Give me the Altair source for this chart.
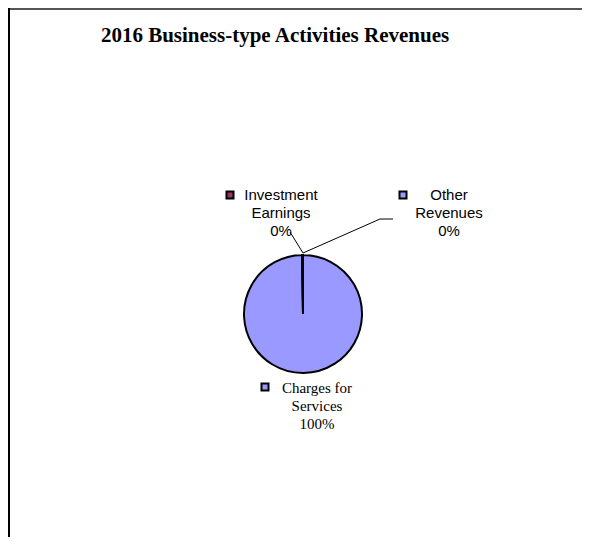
import altair as alt
import pandas as pd

# ---- data ----
categories = ["Charges for Services", "Investment Earnings", "Other Revenues"]
values = [14520000, 21000, 17000]
colors = ["#9999FF", "#993366", "#9999FF"]

# ---- layout (not data) ----
W, H = 574, 529
CX, CY, R = 295, 306, 59
label_lines = {
    "Charges for Services": ["Charges for", "Services"],
    "Investment Earnings": ["Investment", "Earnings"],
    "Other Revenues": ["Other", "Revenues"],
}
label_pos = {  # text block center x, top y, marker x, marker y
    "Charges for Services": (309, 373, 257, 379),
    "Investment Earnings": (273, 180, 222, 187),
    "Other Revenues": (441, 180, 395, 187),
}
label_font = {
    "Charges for Services": "Liberation Serif",
    "Investment Earnings": "Liberation Sans",
    "Other Revenues": "Liberation Sans",
}
leaders = [
    ("Investment Earnings", [(295, 245), (282, 224)]),
    ("Other Revenues", [(295, 245), (372, 211), (385, 211)]),
]

total = sum(values)
df = pd.DataFrame({"category": categories, "value": values, "idx": range(len(categories))})

rows = []
for c, v in zip(categories, values):
    tx, ty, mx, my = label_pos[c]
    pct = f"{round(v / total * 100):.0f}%"
    rows.append({"category": c, "tx": tx, "ty": ty, "mx": mx, "my": my,
                 "text": "\n".join(label_lines[c] + [pct]), "font": label_font[c]})
lab = pd.DataFrame(rows)

lrows = []
for c, pts in leaders:
    for i, (x, y) in enumerate(pts):
        lrows.append({"category": c, "x": x, "y": y, "o": i})
ldf = pd.DataFrame(lrows)

color_scale = alt.Scale(domain=categories, range=colors)

pie = alt.Chart(df).mark_arc(radius=R, stroke="black", strokeWidth=2, x=CX, y=CY).encode(
    theta=alt.Theta("value:Q", stack=True),
    color=alt.Color("category:N", scale=color_scale, legend=None),
    order=alt.Order("idx:Q"),
)

lines = alt.Chart(ldf).mark_line(color="black", strokeWidth=1).encode(
    x=alt.X("x:Q", scale=None, axis=None),
    y=alt.Y("y:Q", scale=None, axis=None),
    detail="category:N",
    order="o:Q",
)

markers = alt.Chart(lab).mark_square(size=49, stroke="black", strokeWidth=2, opacity=1).encode(
    x=alt.X("mx:Q", scale=None, axis=None),
    y=alt.Y("my:Q", scale=None, axis=None),
    color=alt.Color("category:N", scale=color_scale, legend=None),
)

texts_sans = alt.Chart(lab).transform_filter(alt.datum.font == "Liberation Sans").mark_text(
    font="Liberation Sans", fontSize=15, lineHeight=18, align="center", baseline="top",
    lineBreak="\n", color="black"
).encode(
    x=alt.X("tx:Q", scale=None, axis=None),
    y=alt.Y("ty:Q", scale=None, axis=None),
    text="text:N",
)
texts_serif = alt.Chart(lab).transform_filter(alt.datum.font == "Liberation Serif").mark_text(
    font="Liberation Serif", fontSize=15, lineHeight=18, align="center", baseline="top",
    lineBreak="\n", color="black"
).encode(
    x=alt.X("tx:Q", scale=None, axis=None),
    y=alt.Y("ty:Q", scale=None, axis=None),
    text="text:N",
)

title = alt.Chart(pd.DataFrame({"t": ["2016 Business-type Activities Revenues"]})).mark_text(
    font="Liberation Serif", fontSize=21, fontWeight="bold", align="center",
    baseline="alphabetic", color="black"
).encode(x=alt.value(267), y=alt.value(34), text="t:N")

top_border = alt.Chart(pd.DataFrame({"a": [0]})).mark_rule(color="#555555", strokeWidth=2).encode(
    x=alt.value(0), x2=alt.value(W), y=alt.value(1))
left_border = alt.Chart(pd.DataFrame({"a": [0]})).mark_rule(color="black", strokeWidth=2).encode(
    x=alt.value(1), y=alt.value(0), y2=alt.value(H))

chart = alt.layer(top_border, left_border, pie, lines, markers, texts_sans, texts_serif, title).properties(
    width=W, height=H, autosize=alt.AutoSizeParams(type="none"), padding=0
).configure_view(stroke=None)

chart.save("out.html", embed_options={"renderer": "svg", "actions": False})
